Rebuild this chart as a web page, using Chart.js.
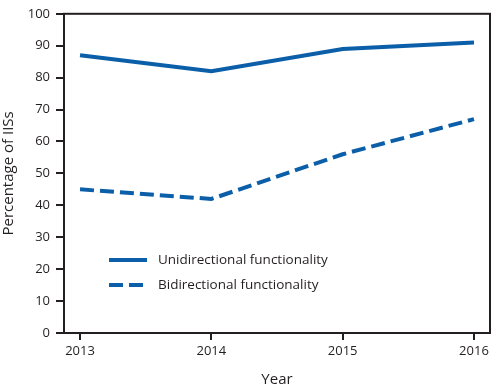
<!DOCTYPE html>
<html>
<head>
<meta charset="utf-8">
<script src="https://cdn.jsdelivr.net/npm/chart.js@4/dist/chart.umd.min.js"></script>
<style>
  html, body { margin: 0; padding: 0; background: #fff; }
  #wrap { width: 498px; height: 389px; }
</style>
</head>
<body>
<div id="wrap"><canvas id="lineChart"></canvas></div>
<script>
// data
let years = [2013, 2014, 2015, 2016];
let unidirectional = [87, 82, 89, 91];
let bidirectional = [45, 42, 56, 67];
let yTicks = [0, 10, 20, 30, 40, 50, 60, 70, 80, 90, 100];
let seriesNames = ["Unidirectional functionality", "Bidirectional functionality"];

let blue = "#0b5ea8";
let ink = "#231f20";
let fontFam = "'Open Sans', 'Noto Sans', sans-serif";

// box around plot + legend inside
let boxAndLegend = {
  id: "boxAndLegend",
  afterDraw(chart) {
    let ctx = chart.ctx;
    let a = chart.chartArea;
    ctx.save();
    ctx.strokeStyle = ink;
    ctx.lineWidth = 2;
    ctx.strokeRect(a.left, a.top, a.right - a.left, a.bottom - a.top);

    // legend
    let rows = [
      { y: 260, dash: [] , txt: seriesNames[0] },
      { y: 285, dash: [14, 6], txt: seriesNames[1] }
    ];
    ctx.font = "13.5px " + fontFam;
    ctx.fillStyle = ink;
    ctx.textBaseline = "middle";
    rows.forEach(r => {
      ctx.beginPath();
      ctx.setLineDash(r.dash);
      ctx.strokeStyle = blue;
      ctx.lineWidth = 4;
      ctx.moveTo(109, r.y);
      ctx.lineTo(147, r.y);
      ctx.stroke();
      ctx.setLineDash([]);
      ctx.fillText(r.txt, 158, r.y);
    });
    ctx.restore();
  }
};

new Chart(document.getElementById("lineChart"), {
  type: "line",
  data: {
    datasets: [
      {
        label: seriesNames[0],
        data: years.map((y, i) => ({ x: y, y: unidirectional[i] })),
        borderColor: blue,
        borderWidth: 4,
        pointRadius: 0,
        tension: 0
      },
      {
        label: seriesNames[1],
        data: years.map((y, i) => ({ x: y, y: bidirectional[i] })),
        borderColor: blue,
        borderWidth: 4,
        borderDash: [14, 6],
        pointRadius: 0,
        tension: 0
      }
    ]
  },
  options: {
    responsive: true,
    maintainAspectRatio: false,
    animation: false,
    layout: { padding: { top: 13, right: 8, left: 0, bottom: 0 } },
    plugins: {
      legend: { display: false },
      tooltip: { enabled: false }
    },
    scales: {
      x: {
        type: "linear",
        min: 2012.878,
        max: 2016.122,
        afterBuildTicks: s => { s.ticks = years.map(v => ({ value: v })); },
        afterFit: s => { s.height = 56; },
        border: { display: true, color: ink, width: 2 },
        grid: { drawOnChartArea: false, color: ink, lineWidth: 2, tickLength: 7 },
        ticks: {
          color: ink,
          font: { family: fontFam, size: 13 },
          padding: 3,
          callback: v => String(v)
        },
        title: {
          display: true,
          text: "Year",
          color: ink,
          font: { family: fontFam, size: 15 },
          padding: { top: 2, bottom: 0 }
        }
      },
      y: {
        min: 0,
        max: 100,
        afterBuildTicks: s => { s.ticks = yTicks.map(v => ({ value: v })); },
        afterFit: s => { s.width = 64; },
        border: { display: true, color: ink, width: 2 },
        grid: { drawOnChartArea: false, color: ink, lineWidth: 2, tickLength: 8 },
        ticks: {
          color: ink,
          font: { family: fontFam, size: 13 },
          padding: 6
        },
        title: {
          display: true,
          text: "Percentage of IISs",
          color: ink,
          font: { family: fontFam, size: 15 },
          padding: { top: 0, bottom: 4 }
        }
      }
    }
  },
  plugins: [boxAndLegend]
});
</script>
</body>
</html>
